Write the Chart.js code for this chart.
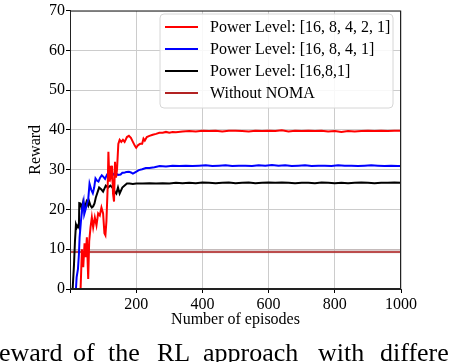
<!DOCTYPE html>
<html>
<head>
<meta charset="utf-8">
<script src="https://cdn.jsdelivr.net/npm/chart.js@4/dist/chart.umd.min.js"></script>
<style>
html,body{margin:0;padding:0;background:#fff;}
canvas{display:block;}
</style>
</head>
<body>
<canvas id="c" width="452" height="362"></canvas>
<script>
// ---- data ----
const xTicks = [200, 400, 600, 800, 1000];
const yTicks = [0, 10, 20, 30, 40, 50, 60, 70];

const seriesLabels = ["Power Level: [16, 8, 4, 2, 1]", "Power Level: [16, 8, 4, 1]", "Power Level: [16,8,1]", "Without NOMA"];

const episodesRed = [28,32,36,40,44,47,51,55,58,62,66,70,75,80,85,90,95,100,104,107,110,114,116,119,122,124,127,130,133,136,139,142,146,150,155,160,165,172,178,184,190,196,200,206,212,218,222,226,232,240,250,260,270,280,290,300,310,320,340,360,380,400,420,440,460,480,500,520,540,560,580,600,620,640,660,680,700,720,740,760,780,800,820,840,860,880,900,920,940,960,980,1000];
const rewardRed =   [0,0,10,5.5,11.5,8,13,2.5,12,15.5,18,15.5,18,16,19,18.5,20.5,19,14,13.5,17,26,34.5,27,31,29,31,24,22,32,28,30,36.5,37.5,37,37.5,37,38.2,38.5,38,37,36,35.5,36.2,36.5,36.5,37.8,37.3,38.2,38.5,38.8,39,39.3,39.3,39.5,39.3,39.5,39.4,39.6,39.7,39.6,39.8,39.7,39.8,39.6,39.8,39.8,39.7,39.6,39.8,39.7,39.8,39.7,39.9,39.6,39.8,39.7,39.8,39.7,39.8,39.6,39.7,39.5,39.7,39.6,39.7,39.8,39.7,39.8,39.7,39.8,39.8];

const episodesBlue = [12,18,20,24,27,29,33,37,41,43,47,50,55,59,64,69,73,77,82,86,91,96,101,106,112,118,123,128,133,138,145,153,158,163,170,178,184,190,198,208,218,229,240,255,271,290,310,330,350,370,390,410,430,450,470,490,510,530,550,570,590,610,630,650,670,690,710,730,750,770,790,810,830,850,870,890,910,930,950,970,990,1000];
const rewardBlue =   [0,0,2.9,5,8.8,13,17,20.4,22,18.8,20,21,22.5,26.5,25,24.1,25.5,27.8,27.2,27,28,28.6,28.2,27.7,28.8,29.4,28.9,28.5,29,29.1,28.7,28.8,29.2,29.2,29.4,29.5,29.3,29,29.4,29.9,30.1,30.4,30.4,30.6,30.9,30.8,31,30.9,31,30.9,31,31.1,30.9,31,31.1,30.9,31,31,30.9,31.1,31,31.2,31,31.1,30.9,31,31.1,30.9,31,31,30.9,31.1,31,31,30.9,31,31.1,31,30.9,31,30.9,30.9];

const episodesBlack = [2,8,12,15,18,21,24,27,28,32,36,40,45,50,55,58,62,66,70,74,78,82,88,95,100,108,115,122,128,135,140,145,150,158,165,172,180,190,200,220,240,260,280,300,320,340,360,380,400,420,440,460,480,500,520,540,560,580,600,620,640,660,680,700,720,740,760,780,800,820,840,860,880,900,920,940,960,980,1000];
const rewardBlack =   [0,0,6,12,16.2,15.5,16,15.5,21.6,21.5,20,22,20.5,22,21,22,21,20.5,20.8,21.5,23,24,25.5,25,24.5,26,25.5,26,25.5,24.5,24,25.5,24,25.5,26,26.5,26.5,26.4,26.5,26.5,26.6,26.5,26.6,26.5,26.7,26.6,26.7,26.6,26.8,26.7,26.6,26.7,26.8,26.6,26.7,26.8,26.6,26.7,26.8,26.7,26.8,26.7,26.6,26.7,26.7,26.6,26.8,26.7,26.6,26.7,26.6,26.7,26.8,26.7,26.6,26.7,26.7,26.8,26.7];

const episodesNoma = [0, 1000];
const rewardNoma = [9.3, 9.3];
const bandUpper = [10.0, 10.0];
const bandLower = [9.0, 9.0];

const captionWords = ["eward", "of", "the", "RL", "approach", "with", "differe"];

// ---- helpers ----
const pts = (xs, ys) => xs.map((x, i) => ({x: x, y: ys[i]}));
const SERIF = "'Liberation Serif','Times New Roman',serif";
const colors = ["#ff0000", "#0000ff", "#000000", "#b22222"];

const extras = {
  id: 'extras',
  afterDraw(chart) {
    const ctx = chart.ctx;
    const a = chart.chartArea;
    ctx.save();
    // spines
    ctx.strokeStyle = "#222";
    ctx.lineWidth = 1;
    ctx.strokeRect(a.left + 0.5, a.top + 0.5, a.right - a.left - 1, a.bottom - a.top - 1);
    // legend
    const lx = 160, ly = 14, lw = 233, lh = 94, r = 4;
    ctx.beginPath();
    ctx.moveTo(lx + r, ly);
    ctx.arcTo(lx + lw, ly, lx + lw, ly + lh, r);
    ctx.arcTo(lx + lw, ly + lh, lx, ly + lh, r);
    ctx.arcTo(lx, ly + lh, lx, ly, r);
    ctx.arcTo(lx, ly, lx + lw, ly, r);
    ctx.closePath();
    ctx.fillStyle = "rgba(255,255,255,0.85)";
    ctx.fill();
    ctx.strokeStyle = "#d6d6d6";
    ctx.lineWidth = 1;
    ctx.stroke();
    ctx.font = "16px " + SERIF;
    ctx.textBaseline = "middle";
    ctx.textAlign = "left";
    seriesLabels.forEach((lab, i) => {
      const y = 27 + i * 22;
      ctx.strokeStyle = colors[i];
      ctx.lineWidth = 2;
      ctx.beginPath();
      ctx.moveTo(165, y);
      ctx.lineTo(198, y);
      ctx.stroke();
      ctx.fillStyle = "#000";
      ctx.fillText(lab, 210, y + 0.5);
    });
    // axis titles
    ctx.fillStyle = "#000";
    ctx.font = "16px " + SERIF;
    ctx.textAlign = "center";
    ctx.textBaseline = "middle";
    ctx.fillText("Number of episodes", (a.left + a.right) / 2, 320);
    ctx.save();
    ctx.translate(36, (a.top + a.bottom) / 2);
    ctx.rotate(-Math.PI / 2);
    ctx.fillText("Reward", 0, 0);
    ctx.restore();
    // partial caption below the figure
    ctx.font = "26px " + SERIF;
    ctx.textAlign = "left";
    ctx.textBaseline = "alphabetic";
    const wx = [-1, 73, 108, 157, 203, 318, 380];
    captionWords.forEach((w, i) => ctx.fillText(w, wx[i], 361));
    ctx.restore();
  }
};

new Chart(document.getElementById('c'), {
  type: 'line',
  data: {
    datasets: [
      {label: seriesLabels[0], data: pts(episodesRed, rewardRed), borderColor: colors[0], borderWidth: 2, pointRadius: 0, tension: 0, fill: false},
      {label: seriesLabels[1], data: pts(episodesBlue, rewardBlue), borderColor: colors[1], borderWidth: 2, pointRadius: 0, tension: 0, fill: false},
      {label: seriesLabels[2], data: pts(episodesBlack, rewardBlack), borderColor: colors[2], borderWidth: 2, pointRadius: 0, tension: 0, fill: false},
      {label: seriesLabels[3], data: pts(episodesNoma, rewardNoma), borderColor: colors[3], borderWidth: 1.6, pointRadius: 0, tension: 0, fill: false},
      {label: 'band-upper', data: pts(episodesNoma, bandUpper), borderColor: 'rgba(0,0,0,0)', borderWidth: 0, pointRadius: 0, fill: '+1', backgroundColor: 'rgba(185,160,160,0.5)'},
      {label: 'band-lower', data: pts(episodesNoma, bandLower), borderColor: 'rgba(0,0,0,0)', borderWidth: 0, pointRadius: 0, fill: false}
    ]
  },
  options: {
    responsive: false,
    animation: false,
    devicePixelRatio: 1,
    layout: {padding: {left: 0, right: 51, top: 6, bottom: 0}},
    plugins: {legend: {display: false}, tooltip: {enabled: false}},
    scales: {
      x: {
        type: 'linear', min: 0, max: 1000,
        afterFit(s) { s.height = 73; },
        afterBuildTicks(s) { s.ticks = [0].concat(xTicks).map(v => ({value: v})); },
        ticks: {
          color: '#000', padding: 2, maxRotation: 0,
          font: {family: SERIF, size: 16},
          callback: v => (v === 0 ? '' : String(v))
        },
        grid: {color: '#cccccc', lineWidth: 1, tickLength: 4, tickColor: '#000'},
        border: {color: '#222', width: 1}
      },
      y: {
        type: 'linear', min: 0, max: 70,
        afterFit(s) { s.width = 70; },
        afterBuildTicks(s) { s.ticks = yTicks.map(v => ({value: v})); },
        ticks: {color: '#000', padding: 1, font: {family: SERIF, size: 16}},
        grid: {color: '#cccccc', lineWidth: 1, tickLength: 4, tickColor: '#000'},
        border: {color: '#222', width: 1}
      }
    }
  },
  plugins: [extras]
});
</script>
</body>
</html>
